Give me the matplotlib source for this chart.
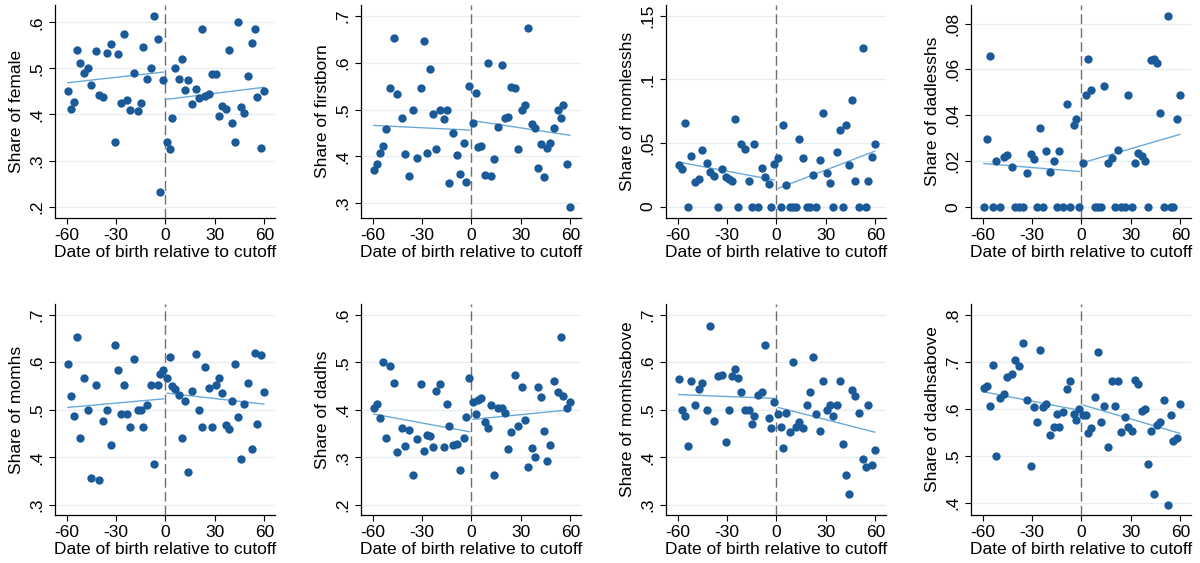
import matplotlib
matplotlib.use('Agg')
import matplotlib.pyplot as plt

plt.rcParams['font.family'] = ['Liberation Sans', 'DejaVu Sans']

# common bin positions (days relative to cutoff)
x_left = [-59.2, -57.5, -55.2, -53.5, -52.0, -49.4, -47.0, -44.9, -42.2, -40.0,
          -37.8, -35.6, -33.0, -30.8, -28.9, -26.7, -25.0, -23.2, -21.3, -19.0,
          -16.7, -15.1, -13.3, -11.1, -9.0, -6.8, -4.6, -3.1, -1.2]
x_right = [1.1, 3.0, 4.1, 6.0, 8.3, 10.0, 11.6, 13.6, 15.9, 18.6, 20.2, 22.0,
           24.3, 26.5, 28.5, 30.5, 32.6, 34.6, 36.5, 38.6, 40.7, 42.5, 44.2,
           45.8, 47.7, 50.2, 52.7, 54.2, 55.7, 58.0, 59.7]

female_left = [.452, .412, .427, .539, .511, .491, .500, .465, .537, .442, .439, .533,
               .553, .341, .532, .425, .574, .432, .409, .490, .408, .425, .547, .478,
               .500, .614, .563, .231, .474]
female_right = [.340, .325, .392, .500, .477, .520, .454, .474, .423, .456, .436, .586,
                .440, .445, .488, .487, .396, .419, .413, .540, .381, .341, .600, .417,
                .404, .484, .554, .586, .438, .327, .450]

firstborn_left = [.370, .383, .408, .422, .459, .547, .652, .533, .482, .405, .357, .500,
                  .397, .546, .646, .408, .586, .490, .415, .500, .479, .500, .342, .449,
                  .402, .363, .428, .346, .550]
firstborn_right = [.471, .536, .420, .423, .359, .600, .357, .395, .462, .596, .482, .485,
                   .549, .546, .415, .499, .509, .674, .469, .461, .375, .426, .355, .417,
                   .428, .461, .500, .482, .510, .384, .292]

momlesshs_left = [.0324, .0293, .0656, 0, .040, .019, .0215, .0444, .0345, .0272, .024, 0,
                  .0293, .0233, .0215, .0205, .069, 0, .0489, .0452, .0199, 0, .0489, 0,
                  .030, .0233, .018, 0, .0334]
momlesshs_right = [.0379, 0, .0643, .017, 0, 0, 0, .0528, .0384, 0, 0, .0246, 0, .0363,
                   .0732, .0261, .0188, 0, .0426, .060, 0, .0638, .0324, .0834, .0204, 0,
                   .125, 0, .0204, .0387, .0489]

dadlesshs_left = [0, .0295, .0659, 0, .0201, 0, .0218, .0224, .0173, 0, 0, 0, .0147,
                  .023, .0209, 0, .0346, 0, .0244, .0151, .0201, 0, .0244, 0, .0448, 0,
                  .0358, .0384, 0]
dadlesshs_right = [.0192, .0487, .0646, .0511, 0, 0, 0, .0527, .0192, .0214, 0, .0246, 0,
                   0, .0487, 0, .0189, .0234, .022, .0199, 0, .0639, .0647, .0627, .0409,
                   0, .0835, 0, 0, .0384, .0487]

momhs_left = [.597, .530, .487, .654, .440, .566, .500, .356, .552, .352, .477, .500,
              .427, .636, .583, .491, .552, .491, .464, .606, .500, .500, .464, .511,
              .553, .387, .553, .576, .583]
momhs_right = [.567, .611, .550, .544, .532, .440, .519, .369, .539, .618, .500, .464,
               .589, .546, .464, .553, .566, .535, .469, .460, .519, .596, .484, .396,
               .512, .556, .417, .620, .470, .616, .537]

dadhs_left = [.403, .412, .382, .500, .340, .491, .457, .311, .362, .324, .357, .262,
              .338, .455, .313, .347, .345, .321, .439, .455, .321, .412, .366, .326,
              .328, .273, .340, .384, .467]
dadhs_right = [.416, .391, .420, .424, .375, .361, .411, .264, .404, .404, .394, .317,
               .353, .473, .366, .448, .378, .280, .319, .300, .447, .426, .355, .292,
               .327, .461, .438, .552, .429, .404, .416]

momhsabove_left = [.565, .500, .487, .424, .560, .510, .544, .556, .500, .676, .477, .572,
                   .574, .432, .500, .572, .586, .566, .537, .500, .500, .471, .488, .531,
                   .537, .636, .482, .461, .516]
momhsabove_right = [.491, .463, .419, .493, .454, .600, .464, .474, .461, .511, .537, .610,
                    .491, .455, .561, .500, .510, .488, .511, .560, .429, .362, .323, .542,
                    .530, .493, .396, .379, .510, .385, .415]

dadhsabove_left = [.645, .648, .605, .693, .500, .623, .631, .667, .673, .703, .691, .739,
                   .618, .478, .604, .572, .725, .604, .611, .545, .561, .588, .561, .593,
                   .642, .659, .590, .577, .600]
dadhsabove_right = [.586, .586, .549, .560, .625, .720, .571, .605, .520, .660, .607, .659,
                    .550, .583, .562, .553, .661, .652, .595, .600, .483, .553, .420, .566,
                    .572, .619, .396, .586, .531, .538, .610]

# fitted line values at the first and last bin on each side
fit_left = {
    'female': [.469, .492], 'firstborn': [.466, .456], 'momlesshs': [.035, .0209],
    'dadlesshs': [.0189, .0154], 'momhs': [.505, .523], 'dadhs': [.391, .354],
    'momhsabove': [.532, .524], 'dadhsabove': [.636, .597]}
fit_right = {
    'female': [.433, .459], 'firstborn': [.476, .445], 'momlesshs': [.0144, .0436],
    'dadlesshs': [.0193, .0316], 'momhs': [.535, .512], 'dadhs': [.380, .400],
    'momhsabove': [.505, .453], 'dadhsabove': [.608, .548]}

names = ['female', 'firstborn', 'momlesshs', 'dadlesshs',
         'momhs', 'dadhs', 'momhsabove', 'dadhsabove']
series = {
    'female': (female_left, female_right), 'firstborn': (firstborn_left, firstborn_right),
    'momlesshs': (momlesshs_left, momlesshs_right), 'dadlesshs': (dadlesshs_left, dadlesshs_right),
    'momhs': (momhs_left, momhs_right), 'dadhs': (dadhs_left, dadhs_right),
    'momhsabove': (momhsabove_left, momhsabove_right),
    'dadhsabove': (dadhsabove_left, dadhsabove_right)}

yticks = {
    'female': ([.2, .3, .4, .5, .6], ['.2', '.3', '.4', '.5', '.6']),
    'firstborn': ([.3, .4, .5, .6, .7], ['.3', '.4', '.5', '.6', '.7']),
    'momlesshs': ([0, .05, .1, .15], ['0', '.05', '.1', '.15']),
    'dadlesshs': ([0, .02, .04, .06, .08], ['0', '.02', '.04', '.06', '.08']),
    'momhs': ([.3, .4, .5, .6, .7], ['.3', '.4', '.5', '.6', '.7']),
    'dadhs': ([.2, .3, .4, .5, .6], ['.2', '.3', '.4', '.5', '.6']),
    'momhsabove': ([.3, .4, .5, .6, .7], ['.3', '.4', '.5', '.6', '.7']),
    'dadhsabove': ([.4, .5, .6, .7, .8], ['.4', '.5', '.6', '.7', '.8'])}
ylims = {
    'female': (.1755, .6375), 'firstborn': (.268, .7235), 'momlesshs': (-.0089, .1584),
    'dadlesshs': (-.0049, .0881), 'momhs': (.279, .7223), 'dadhs': (.179, .6223),
    'momhsabove': (.279, .7223), 'dadhsabove': (.3746, .8226)}

xticks = [-60, -30, 0, 30, 60]
xtick_labels = ['-60', '-30', '0', '30', '60']
xlabel = 'Date of birth relative to cutoff'

DOT = '#1a5a98'
LINE = '#6aaad8'
GRID = '#e6eef1'

W, H = 1200, 563
fig = plt.figure(figsize=(W / 100, H / 100), dpi=100)
lefts = [55, 361, 666, 971]
rows = [(5, 218), (304, 515)]

for i, name in enumerate(names):
    r, c = divmod(i, 4)
    t, b = rows[r]
    l = lefts[c]
    ax = fig.add_axes([l / W, 1 - b / H, 220 / W, (b - t) / H])
    yl, yr = series[name]
    ax.axvline(0, color='#707070', lw=1.0, ls=(0, (7, 3)), zorder=1)
    ax.plot(x_left, yl, 'o', color=DOT, ms=6.0, mec='none', zorder=3)
    ax.plot(x_right, yr, 'o', color=DOT, ms=6.0, mec='none', zorder=3)
    ax.plot([x_left[0], x_left[-1]], fit_left[name], color=LINE, lw=1.0, zorder=2)
    ax.plot([x_right[0], x_right[-1]], fit_right[name], color=LINE, lw=1.0, zorder=2)
    ax.set_xlim(-67, 66.5)
    ax.set_ylim(*ylims[name])
    ax.set_xticks(xticks)
    ax.set_xticklabels(xtick_labels)
    tv, tl = yticks[name]
    ax.set_yticks(tv)
    ax.set_yticklabels(tl, rotation=90, va='center')
    for yv in tv:
        ax.axhline(yv, color=GRID, lw=0.9, zorder=0)
    for s in ['top', 'right']:
        ax.spines[s].set_visible(False)
    for s in ['left', 'bottom']:
        ax.spines[s].set_linewidth(0.9)
        ax.spines[s].set_color('black')
    ax.tick_params(axis='both', length=4.5, width=0.8, labelsize=12.5, pad=3)
    ax.set_xlabel(xlabel, fontsize=12.5, labelpad=1)
    ax.set_ylabel('Share of ' + name, fontsize=12.5, labelpad=4)

fig.savefig('out.png', dpi=100)
